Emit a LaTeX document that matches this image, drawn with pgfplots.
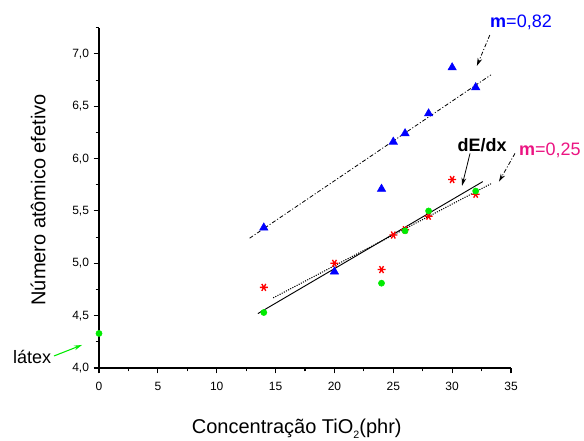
\documentclass[border=0pt]{standalone}
\usepackage{fontspec}
\setmainfont{Liberation Sans}
\usepackage{pgfplots}
\pgfplotsset{compat=1.18}
\usetikzlibrary{arrows.meta}

\definecolor{ptblue}{RGB}{0,0,255}
\definecolor{ptred}{RGB}{255,0,0}
\definecolor{ptgreen}{RGB}{0,235,0}
\definecolor{ptpink}{RGB}{235,20,130}

\begin{document}
\begin{tikzpicture}
% page = 584x441 px at 0.75pt/px, axis origin at px (99,368)
\useasboundingbox (-74.25pt,-54.75pt) rectangle (363.75pt,276pt);
\begin{axis}[
    at={(0,0)}, anchor=south west,
    scale only axis,
    width=309pt, height=255.2pt,
    xmin=0, xmax=35,
    ymin=4, ymax=7.25,
    axis x line*=bottom, axis y line*=left,
    axis line style={-, thick},
    tick align=outside,
    major tick length=4pt, minor tick length=2.5pt,
    tick style={black, thick},
    xtick={0,5,...,35},
    minor xtick={2.5,7.5,...,32.5},
    ytick={4,4.5,...,7},
    minor ytick={4.25,4.75,...,7.25},
    /pgf/number format/assume math mode=true,
    ticklabel style={font=\fontsize{9}{11}\selectfont},
    yticklabel style={/pgf/number format/.cd, fixed, fixed zerofill, precision=1, use comma},
    xticklabel style={yshift=-3pt},
    label style={font=\fontsize{15}{18}\selectfont},
    xlabel={Concentração TiO\raisebox{-0.45ex}{\fontsize{8}{9}\selectfont 2}(phr)},
    ylabel={Número atômico efetivo},
    xlabel style={at={(axis description cs:0.48,-0.178)}, anchor=center},
    ylabel style={at={(axis description cs:-0.148,0.494)}, anchor=center},
    clip=false,
]
% fitted lines
\addplot[black, line width=0.6pt, dash pattern=on 3pt off 1.5pt on 0.8pt off 1.5pt] coordinates {(12.8,5.24) (33.3,6.80)};
\addplot[black, line width=0.7pt] coordinates {(13.5,4.52) (32.6,5.78)};
\addplot[black, line width=0.8pt, densely dotted] coordinates {(14.8,4.67) (33.3,5.76)};

% effective atomic number (blue triangles)
\addplot[only marks, mark=triangle*, mark size=3.6pt, color=ptblue] coordinates {
  (14,5.34) (20,4.92) (24,5.71) (25,6.16) (26,6.24) (28,6.43) (30,6.87) (32,6.68)
};
% red asterisks
\addplot[only marks, mark=asterisk, mark size=3pt, color=ptred, line width=1pt, mark options={rotate=90}] coordinates {
  (14,4.77) (20,5.00) (24,4.94) (25,5.27) (26,5.32) (28,5.45) (30,5.80) (32,5.66)
};
% green circles
\addplot[only marks, mark=*, mark size=2.3pt, color=ptgreen] coordinates {
  (0,4.33) (14,4.53) (24,4.81) (26,5.31) (28,5.50) (32,5.69)
};

% annotations
\node[color=ptblue, font=\fontsize{13.5}{16}\selectfont] at (axis cs:35.85,7.30) {\textbf{m}=0,82};
\draw[black, line width=0.6pt, dash pattern=on 3pt off 1.5pt on 0.8pt off 1.5pt, -{Stealth[length=6pt,width=3.5pt]}]
  (axis cs:33.2,7.18) -- (axis cs:32.1,6.885);

\node[black, font=\fontsize{13.5}{16}\selectfont\bfseries] at (axis cs:32.54,6.13) {dE/dx};
\draw[black, line width=0.6pt, -{Stealth[length=6pt,width=3.5pt]}]
  (axis cs:31.52,6.05) -- (axis cs:30.84,5.74);

\node[color=ptpink, font=\fontsize{13.5}{16}\selectfont] at (axis cs:38.3,6.08) {\textbf{m}=0,25};
\draw[black, line width=0.6pt, dash pattern=on 3pt off 1.5pt on 0.8pt off 1.5pt, -{Stealth[length=6pt,width=3.5pt]}]
  (axis cs:35.34,6.05) -- (axis cs:33.98,5.78);

\node[black, font=\fontsize{13.5}{16}\selectfont] at (axis cs:-5.69,4.105) {látex};
\draw[color=ptgreen, line width=0.8pt, -{Stealth[length=6pt,width=3.5pt]}]
  (axis cs:-3.82,4.115) -- (axis cs:-1.44,4.22);
\end{axis}
\end{tikzpicture}
\end{document}
